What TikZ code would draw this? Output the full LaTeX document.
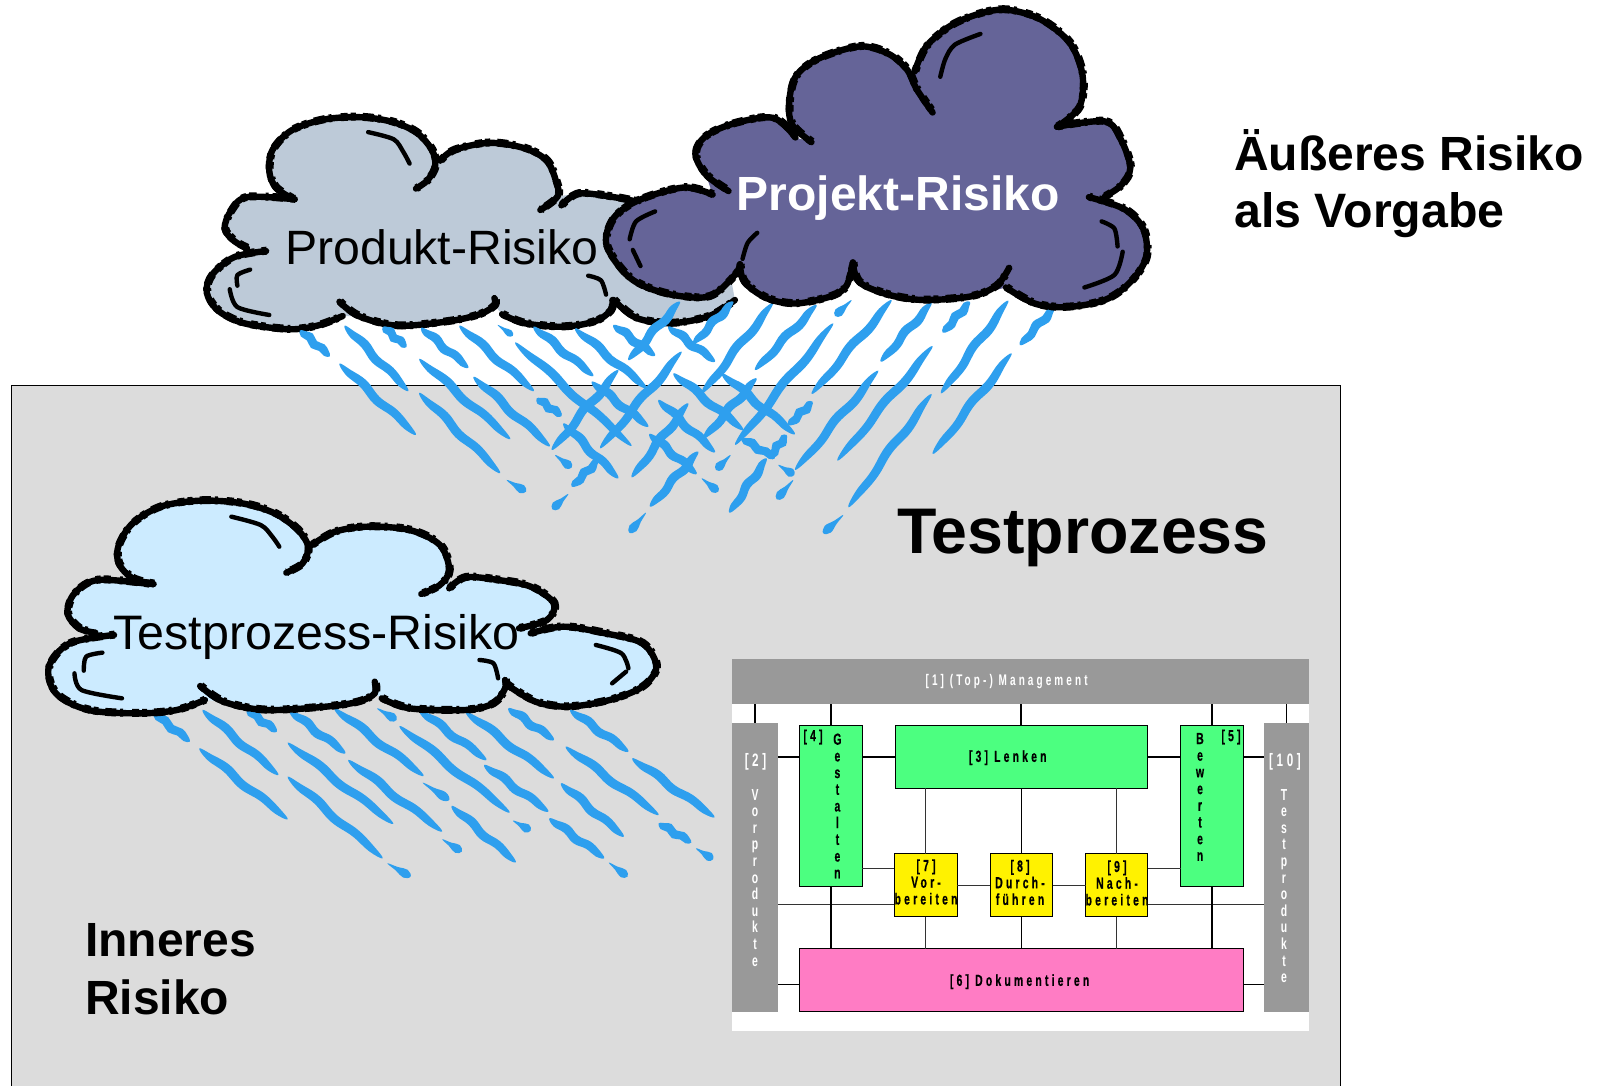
\documentclass[tikz,border=0pt]{standalone}
\usepackage{fontspec}
\usetikzlibrary{calc}
\setmainfont{Liberation Sans}
\newfontfamily\procb[FakeStretch=0.65,LetterSpace=20,FakeBold=0.5]{Liberation Sans Bold}
\newfontfamily\procr[FakeStretch=0.65,LetterSpace=20]{Liberation Sans Bold}
\definecolor{boxgray}{HTML}{DCDCDC}
\definecolor{bargray}{HTML}{999999}
\definecolor{pgreen}{HTML}{4CFF80}
\definecolor{ppink}{HTML}{FF7CC4}
\definecolor{rainblue}{HTML}{2E9FEE}
\definecolor{cloudgray}{HTML}{BDCAD8}
\definecolor{cloudviolet}{HTML}{656498}
\definecolor{cloudblue}{HTML}{CCEBFF}
\tikzset{
  pbox/.style={draw=black,line width=.8pt,inner sep=0pt,outer sep=0pt,anchor=center},
  pbar/.style={fill=bargray,inner sep=0pt,outer sep=0pt,anchor=center},
  thickcon/.style={draw=black,line width=1.5pt},
  thincon/.style={draw=black!80,line width=.9pt},
  ptxt/.style={inner sep=0pt,outer sep=0pt,align=center,font=\procb\fontsize{16}{16.7}\selectfont},
  wtxt/.style={inner sep=0pt,outer sep=0pt,align=center,text=white,font=\procr\fontsize{16}{16.6}\selectfont},
  wtxtl/.style={wtxt,font=\procr\fontsize{18}{18}\selectfont},
  bigt/.style={inner sep=0pt,outer sep=0pt,anchor=base west,font=\fontsize{48}{48}\selectfont},
  cloudcore/.style={draw=black,line width=6.4pt,line cap=round,line join=round},
  cloudrough/.style={draw=black,line width=8pt,line join=round,dash pattern=on 5pt off 7pt on 11pt off 4pt on 3pt off 9pt on 7pt off 3pt},
  cloudfine/.style={draw=black,line width=4.4pt,line cap=round,line join=round},
}
\newcommand\cloudarc[1]{%
  \draw[cloudcore] plot[smooth,tension=.55] coordinates {#1};
  \draw[cloudrough,xshift=.6pt,yshift=.4pt] plot[smooth,tension=.55] coordinates {#1};
}
\newcommand\cloudfill[2]{\fill[#1,line join=round] plot coordinates {#2} -- cycle;}
\newcommand\rainstk[3]{%
  \coordinate (ra) at (#1); \coordinate (rb) at (#2);
  \coordinate (r1) at ($(ra)!.12!(rb)!#3*.3pt!90:(rb)$);
  \coordinate (r2) at ($(ra)!.3!(rb)!#3*.6pt!90:(rb)$);
  \coordinate (r3) at ($(ra)!.5!(rb)!#3*.3pt!90:(rb)$);
  \coordinate (r4) at ($(ra)!.7!(rb)!#3*.55pt!90:(rb)$);
  \coordinate (r5) at ($(ra)!.88!(rb)!#3*.35pt!90:(rb)$);
  \coordinate (r6) at ($(ra)!.88!(rb)!#3*.35pt!-90:(rb)$);
  \coordinate (r7) at ($(ra)!.7!(rb)!#3*.3pt!-90:(rb)$);
  \coordinate (r8) at ($(ra)!.5!(rb)!#3*.6pt!-90:(rb)$);
  \coordinate (r9) at ($(ra)!.3!(rb)!#3*.3pt!-90:(rb)$);
  \coordinate (r0) at ($(ra)!.12!(rb)!#3*.4pt!-90:(rb)$);
  \fill[rainblue] plot[smooth cycle,tension=.7] coordinates {(ra) (r1) (r2) (r3) (r4) (r5) (rb) (r6) (r7) (r8) (r9) (r0)};
}
\newcommand\raindrp[3]{%
  \coordinate (ra) at (#1); \coordinate (rb) at (#2);
  \coordinate (r1) at ($(ra)!.4!(rb)!#3*.22pt!90:(rb)$);
  \coordinate (r2) at ($(ra)!.78!(rb)!#3*.5pt!90:(rb)$);
  \coordinate (r3) at ($(ra)!.78!(rb)!#3*.5pt!-90:(rb)$);
  \coordinate (r4) at ($(ra)!.4!(rb)!#3*.22pt!-90:(rb)$);
  \fill[rainblue] plot[smooth cycle,tension=.7] coordinates {(ra) (r1) (r2) (rb) (r3) (r4)};
}
\begin{document}
\begin{tikzpicture}[x=1pt,y=-1pt]
\useasboundingbox (0,0) rectangle (1603,1085);
\clip (0,0) rectangle (1603,1085);
\fill[white] (0,0) rectangle (1603,1085);
% main box
\draw[fill=boxgray,draw=black,line width=1.3pt] (11.7,385.5) rectangle (1340.3,1095);
% process panel
\fill[white] (731.9,659) rectangle (1309,1031);
\node[pbar,minimum width=577.1pt,minimum height=45pt] (mgmt) at (1020.45,681.5) {};
\node[pbar,minimum width=46.2pt,minimum height=288.4pt] (bl) at (755,867.5) {};
\node[pbar,minimum width=45.5pt,minimum height=288.4pt] (br) at (1286.25,867.5) {};
\node[pbox,fill=pgreen,minimum width=62.8pt,minimum height=161pt] (p4) at (830.9,806.2) {};
\node[pbox,fill=pgreen,minimum width=252.2pt,minimum height=62.6pt] (p3) at (1021.2,757) {};
\node[pbox,fill=pgreen,minimum width=62.9pt,minimum height=161pt] (p5) at (1212,806.2) {};
\node[pbox,fill=yellow,minimum width=62.9pt,minimum height=63pt] (p7) at (925.75,885.2) {};
\node[pbox,fill=yellow,minimum width=62.8pt,minimum height=63pt] (p8) at (1021.4,885.2) {};
\node[pbox,fill=yellow,minimum width=62pt,minimum height=63pt] (p9) at (1116.7,885.2) {};
\node[pbox,fill=ppink,minimum width=443.9pt,minimum height=63pt] (p6) at (1021.45,980.2) {};
\coordinate (rowa) at (0,868.3);
\coordinate (rowb) at (0,904.3);
\coordinate (rowc) at (0,984.3);
\draw[thickcon] (mgmt.south -| bl.north) -- (bl.north);
\draw[thickcon] (mgmt.south -| br.north) -- (br.north);
\draw[thickcon] (mgmt.south -| p4.north) -- (p4.north);
\draw[thickcon] (mgmt.south -| p3.north) -- (p3.north);
\draw[thickcon] (mgmt.south -| p5.north) -- (p5.north);
\draw[thickcon] (bl.east |- p3.west) -- (p4.west |- p3.west);
\draw[thickcon] (p4.east |- p3.west) -- (p3.west);
\draw[thickcon] (p3.east) -- (p5.west |- p3.east);
\draw[thickcon] (p5.east |- p3.east) -- (br.west |- p3.east);
\draw[thincon] (p3.south -| p7.north) -- (p7.north);
\draw[thickcon] (p3.south -| p8.north) -- (p8.north);
\draw[thincon] (p3.south -| p9.north) -- (p9.north);
\draw[thincon] (p4.east |- rowa) -- (p7.west |- rowa);
\draw[thincon] (p9.east |- rowa) -- (p5.west |- rowa);
\draw[thincon] (p7.east) -- (p8.west);
\draw[thincon] (p8.east) -- (p9.west);
\draw[thincon] (bl.east |- rowb) -- (p7.west |- rowb);
\draw[thincon] (p9.east |- rowb) -- (br.west |- rowb);
\draw[thickcon] (p4.south) -- (p6.north -| p4.south);
\draw[thickcon] (p5.south) -- (p6.north -| p5.south);
\draw[thincon] (p7.south) -- (p6.north -| p7.south);
\draw[thickcon] (p8.south) -- (p6.north -| p8.south);
\draw[thincon] (p9.south) -- (p6.north -| p9.south);
\draw[thickcon] (bl.east |- rowc) -- (p6.west |- rowc);
\draw[thickcon] (p6.east |- rowc) -- (br.west |- rowc);
% process labels
\node[wtxt,font=\procr\fontsize{15.4}{16}\selectfont] (t1) at (1006.6,681.7) {[1] (Top-) Management};
\node[wtxtl] (t2) at (755.5,762) {[2]};
\node[wtxt,anchor=north] (t2s) at (755,789) {V\\o\\r\\p\\r\\o\\d\\u\\k\\t\\e};
\node[wtxtl] (t10) at (1285,762) {[10]};
\node[wtxt,anchor=north] (t10s) at (1284,789) {T\\e\\s\\t\\p\\r\\o\\d\\u\\k\\t\\e};
\node[ptxt] (t3) at (1007.7,757.7) {[3] Lenken};
\node[ptxt] (t4) at (813,737) {[4]};
\node[ptxt,anchor=north] (t4s) at (837.4,733.5) {G\\e\\s\\t\\a\\l\\t\\e\\n};
\node[ptxt] (t5) at (1231,737) {[5]};
\node[ptxt,anchor=north] (t5s) at (1200,733) {B\\e\\w\\e\\r\\t\\e\\n};
\node[ptxt] (t6) at (1019.6,981.7) {[6] Dokumentieren};
\node[ptxt] (t7) at (926,882) {[7]\\Vor-\\bereiten};
\node[ptxt] (t8) at (1020,882.5) {[8]\\Durch-\\führen};
\node[ptxt] (t9) at (1117,883) {[9]\\Nach-\\bereiten};
% product cloud
\begin{scope}[shift={(180pt,0pt)},x=.6378pt,y=-.3571pt]
\cloudfill{cloudgray}{(175,555) (150,525) (140,480) (145,420) (175,365) (225,335) (280,328) (330,340) (370,370) (395,420) (400,465) (430,420) (485,400) (540,415) (575,450) (590,510) (592,550) (625,542) (680,552) (730,570) (860,740) (870,840) (830,885) (770,905) (715,890) (680,840) (675,870) (650,900) (600,915) (540,905) (505,880) (493,855) (470,880) (420,900) (340,912) (280,885) (255,885) (215,912) (170,922) (100,905) (60,870) (42,820) (50,770) (85,720) (135,703) (105,695) (85,675) (70,640) (80,590) (105,552)}
\cloudarc{(175,555) (150,525) (140,480) (145,420) (175,365) (225,335) (280,328) (330,340) (370,370) (395,420) (400,465) (388,505) (370,528)}
\cloudarc{(408,450) (430,420) (485,400) (540,415) (575,450) (590,510) (592,550) (565,588)}
\cloudarc{(598,575) (625,542) (680,552) (730,570)}
\cloudarc{(180,558) (105,552) (80,590) (70,640) (85,675) (105,695)}
\cloudarc{(135,703) (85,720) (50,770) (42,820) (60,870) (100,905) (170,922) (215,912) (255,885)}
\cloudarc{(250,845) (280,885) (340,912) (420,900) (470,880) (493,855) (493,835)}
\cloudarc{(505,880) (540,905) (600,915) (650,900) (675,870) (678,840)}
\cloudarc{(680,840) (715,890) (770,905) (830,885) (870,840)}
\draw[cloudfine] plot[smooth] coordinates {(295,370) (335,390) (350,425) (360,458)};
\draw[cloudfine] plot[smooth] coordinates {(110,755) (90,770) (90,800)};
\draw[cloudfine] plot[smooth] coordinates {(78,810) (90,860) (140,882)};
\draw[cloudfine] plot[smooth] coordinates {(640,772) (660,785) (668,825)};
\foreach \xa/\ya/\xb/\yb in {188/925/235/998,258/912/358/1095,318/915/355/972,378/918/452/1030,438/912/555/1095,250/1018/370/1218,375/1005/518/1230,375/1100/502/1325,460/1055/580/1250}{\rainstk{\xa,\ya}{\xb,\yb}{10}}
\raindrp{498,910}{522,940}{7}
\node[bigt,font=\fontsize{48.2}{48}\selectfont] (prod) at (165,742) {Produkt-Risiko};
\end{scope}
% rain, crossing region
\begin{scope}[shift={(500pt,-290pt)},x=.3333pt,y=-.3333pt]
\foreach \xa/\ya/\xb/\yb in {100/110/280/258,225/115/440/295,340/105/465/197,505/110/645/215,520/250/730/420,45/157/395/468,110/325/185/378,190/400/355/565,275/275/445/410,475/330/645/487,448/432/590/552,665/250/885/433,725/445/825/505,
540/35/385/210,700/35/580/160,819/39/605/310,545/185/300/475,355/240/155/480,565/340/395/562,770/265/610/445,595/485/450/650,295/510/215/590,800/505/688/668,1000/100/705/465,
950/45/765/240,1175/30/935/312,1295/38/1142/215,1410/35/1328/128,1525/32/1323/310,1665/50/1560/165,1298/168/1012/512,1135/242/885/540,1295/312/1045/652,1535/190/1298/492,938/335/865/405,860/435/805/505}{\rainstk{\xa,\ya}{\xb,\yb}{10}}
\foreach \xa/\ya/\xb/\yb in {165/495/215/533,20/570/78/605,605/565/655/605,835/525/883/555,1055/30/1005/78,205/612/157/658,438/668/388/728,692/495/648/540,1030/675/970/730,880/570/830/628}{\raindrp{\xa,\ya}{\xb,\yb}{9}}
\end{scope}
% project cloud
\begin{scope}[shift={(180pt,0pt)},x=.6378pt,y=-.3571pt]
\cloudfill{cloudviolet}{(990,398) (960,350) (955,290) (965,215) (1000,165) (1065,130) (1110,150) (1140,195) (1152,200) (1170,130) (1210,70) (1260,35) (1300,28) (1350,55) (1395,120) (1415,210) (1410,300) (1375,355) (1450,340) (1475,390) (1490,470) (1475,520) (1450,550) (1480,585) (1510,640) (1515,720) (1490,790) (1450,840) (1390,860) (1340,850) (1295,805) (1240,830) (1165,840) (1110,825) (1065,790) (1055,735) (1045,800) (1020,830) (965,850) (920,835) (885,790) (878,740) (870,770) (830,830) (770,825) (720,795) (690,750) (668,680) (680,610) (720,560) (790,525) (835,545) (825,490) (808,430) (825,380) (870,345) (930,330) (965,385)}
\cloudarc{(990,398) (960,350) (955,290) (965,215) (1000,165) (1065,130) (1110,150) (1140,195) (1155,250) (1180,315)}
\cloudarc{(1152,200) (1170,130) (1210,70) (1260,35) (1300,28) (1350,55) (1395,120) (1415,210) (1410,300) (1375,355)}
\cloudarc{(1375,355) (1450,340) (1475,390) (1490,470) (1475,520) (1450,550)}
\cloudarc{(965,385) (930,330) (870,345) (825,380) (808,430) (825,490) (860,535)}
\cloudarc{(835,545) (790,525) (720,560) (680,610) (668,680) (690,750) (720,795) (770,825) (830,830) (870,770) (878,740)}
\cloudarc{(878,740) (885,790) (920,835) (965,850) (1020,830) (1045,800) (1055,735)}
\cloudarc{(1055,735) (1065,790) (1110,825) (1165,840) (1240,830) (1280,800) (1300,750)}
\cloudarc{(1295,805) (1340,850) (1390,860) (1450,840) (1490,790) (1515,720) (1510,640) (1480,585) (1425,552)}
\draw[cloudfine] plot[smooth] coordinates {(1255,95) (1215,125) (1200,165) (1192,215)};
\draw[cloudfine] plot[smooth] coordinates {(745,592) (715,620) (705,670)};
\draw[cloudfine] plot[smooth] coordinates {(710,700) (722,745)};
\draw[cloudfine] plot[smooth] coordinates {(905,652) (890,680) (882,725)};
\draw[cloudfine] plot[smooth] coordinates {(1445,620) (1465,640) (1470,690)};
\draw[cloudfine] plot[smooth] coordinates {(1478,705) (1465,770) (1418,805)};
\node[bigt,text=white,font=\bfseries\fontsize{48}{48}\selectfont] (proj) at (873,589) {Projekt-Risiko};
\end{scope}
% test process cloud
\begin{scope}[shift={(0pt,-480pt)},x=.4655pt,y=-.3333pt]
\foreach \xa/\ya/\xb/\yb in {330/700/408/785,435/690/598/885,530/690/595/755,622/692/742/820,718/685/910/888,858/738/1095/998,900/690/1045/840,1000/695/1190/895,1092/685/1190/780,1225/690/1350/815,428/805/618/1018,618/788/845/1032,748/840/950/1055,618/890/822/1135,1040/855/1178/995,1215/800/1415/1005,1358/835/1535/1012,1205/910/1340/1070,970/978/1108/1147,1180/1015/1298/1135,1415/1030/1485/1088}{\rainstk{\xa,\ya}{\xb,\yb}{10}}
\foreach \xa/\ya/\xb/\yb in {810/685/852/720,908/908/965/960,1102/1022/1140/1052,950/1078/992/1115,1495/1105/1532/1138,1308/1148/1348/1190,832/1150/882/1190}{\raindrp{\xa,\ya}{\xb,\yb}{9}}
\cloudfill{cloudblue}{(330,312) (285,295) (255,250) (255,195) (285,130) (345,80) (430,62) (520,70) (590,100) (640,150) (662,200) (720,155) (790,140) (880,150) (945,195) (965,270) (965,325) (1000,292) (1070,300) (1140,320) (1190,370) (1175,420) (1140,460) (1210,440) (1300,460) (1380,490) (1410,560) (1380,620) (1310,660) (1220,680) (1150,665) (1090,615) (1060,670) (1000,690) (880,685) (820,655) (805,640) (770,665) (700,680) (570,690) (480,665) (440,660) (380,690) (300,700) (190,690) (120,640) (105,560) (150,490) (245,465) (205,458) (170,445) (145,400) (160,340) (210,300)}
\cloudarc{(330,312) (285,295) (255,250) (255,195) (285,130) (345,80) (430,62) (520,70) (590,100) (640,150) (662,200) (650,250) (615,278)}
\cloudarc{(670,195) (720,155) (790,140) (880,150) (945,195) (965,270) (945,315) (905,342)}
\cloudarc{(965,325) (1000,292) (1070,300) (1140,320) (1190,370) (1175,420) (1115,445)}
\cloudarc{(1140,460) (1210,440) (1300,460) (1380,490) (1410,560) (1380,620) (1310,660) (1220,680) (1150,665) (1090,615)}
\cloudarc{(320,312) (210,300) (160,340) (145,400) (170,445) (205,458)}
\cloudarc{(245,465) (150,490) (105,560) (120,640) (190,690) (300,700) (380,690) (440,660)}
\cloudarc{(430,618) (480,665) (570,690) (700,680) (770,665) (805,640) (805,605)}
\cloudarc{(820,655) (880,685) (1000,690) (1060,670) (1085,625) (1085,600)}
\draw[cloudfine] plot[smooth] coordinates {(497,110) (560,135) (585,170) (600,200)};
\draw[cloudfine] plot[smooth] coordinates {(220,518) (185,530) (180,572)};
\draw[cloudfine] plot[smooth] coordinates {(160,580) (175,630) (262,655)};
\draw[cloudfine] plot[smooth] coordinates {(1030,540) (1060,550) (1070,595)};
\draw[cloudfine] plot[smooth] coordinates {(1280,495) (1335,520) (1350,565)};
\draw[cloudfine] plot[smooth] coordinates {(1345,575) (1315,610)};
\node[bigt,font=\fontsize{48.4}{48}\selectfont] (tpr) at (244,510) {Testprozess-Risiko};
\end{scope}
% headings
\node[bigt,font=\bfseries\fontsize{48}{48}\selectfont] (h1) at (1234.3,170) {Äußeres Risiko};
\node[bigt,font=\bfseries\fontsize{48.3}{48}\selectfont] (h2) at (1234.3,227.5) {als Vorgabe};
\node[bigt,font=\bfseries\fontsize{64.5}{64}\selectfont] (h3) at (897,553) {Testprozess};
\node[bigt,font=\bfseries\fontsize{48}{48}\selectfont] (h4) at (85,956) {Inneres};
\node[bigt,font=\bfseries\fontsize{48}{48}\selectfont] (h5) at (85,1014) {Risiko};
\end{tikzpicture}
\end{document}
